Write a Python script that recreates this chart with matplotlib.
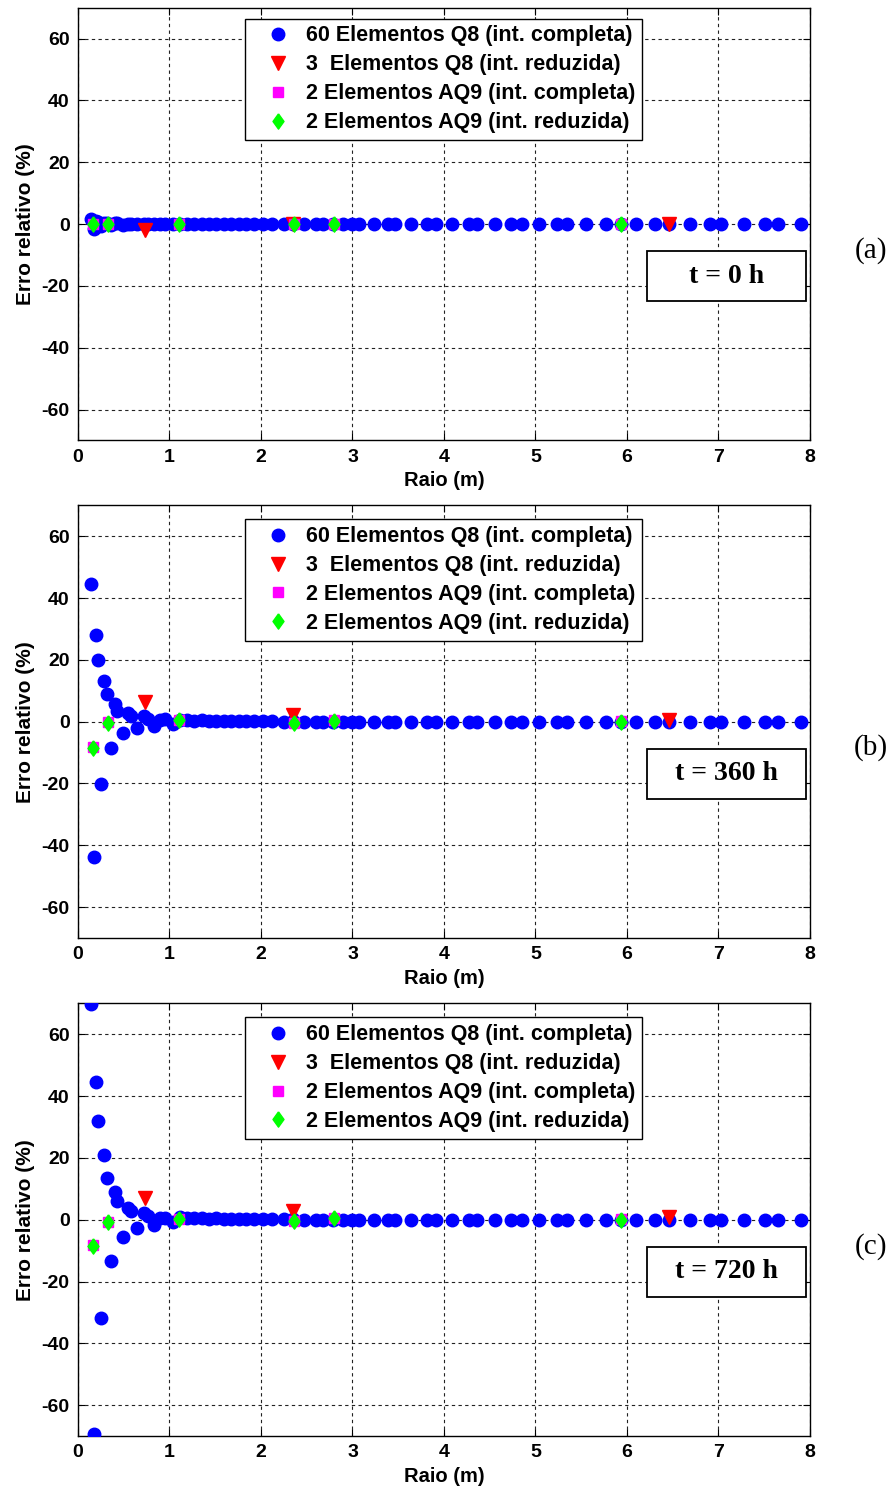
import matplotlib
matplotlib.use("Agg")
import matplotlib.pyplot as plt
from matplotlib.patches import Rectangle

# ---- data -------------------------------------------------------------
# radial positions of the 60-element Q8 mesh results (m)
radius_q8 = [0.145, 0.177, 0.20, 0.215, 0.255, 0.29, 0.318, 0.36, 0.41, 0.43,
             0.49, 0.55, 0.58, 0.64, 0.72, 0.77, 0.835, 0.895, 0.955, 1.04,
             1.12, 1.19, 1.27, 1.36, 1.43, 1.51, 1.60, 1.67, 1.76, 1.84,
             1.92, 2.02, 2.12, 2.25, 2.35, 2.47, 2.60, 2.68, 2.79, 2.90,
             3.00, 3.07, 3.23, 3.39, 3.46, 3.64, 3.82, 3.91, 4.09, 4.27,
             4.36, 4.56, 4.73, 4.85, 5.04, 5.24, 5.34, 5.55, 5.77, 5.93,
             6.10, 6.31, 6.46, 6.69, 6.91, 7.03, 7.28, 7.51, 7.65, 7.90]

err_q8_0h = [1.5, -1.5, 1.0, 0.7, -0.7, 0.5, 0.3, -0.3, 0.2, 0.2,
             -0.2, 0.1, 0.1, -0.1, 0.1, 0.0, -0.1, 0.0, 0.0, 0.0,
             0.0, 0.0, 0.0, 0.0, 0.0, 0.0, 0.0, 0.0, 0.0, 0.0,
             0.0, 0.0, 0.0, 0.0, 0.0, 0.0, 0.0, 0.0, 0.0, 0.0,
             0.0, 0.0, 0.0, 0.0, 0.0, 0.0, 0.0, 0.0, 0.0, 0.0,
             0.0, 0.0, 0.0, 0.0, 0.0, 0.0, 0.0, 0.0, 0.0, 0.0,
             0.0, 0.0, 0.0, 0.0, 0.0, 0.0, 0.0, 0.0, 0.0, 0.0]

err_q8_360h = [44.4, -43.7, 28.2, 20.1, -20.1, 13.1, 8.8, -8.5, 5.8, 3.4,
               -3.7, 2.8, 1.7, -2.1, 1.7, 0.9, -1.5, 0.6, 0.9, -0.8,
               0.6, 0.4, 0.3, 0.4, 0.2, 0.3, 0.2, 0.3, 0.1, 0.2,
               0.1, 0.1, 0.1, 0.0, 0.1, 0.0, 0.0, 0.0, 0.0, 0.0,
               0.0, 0.0, 0.0, 0.0, 0.0, 0.0, 0.0, 0.0, 0.0, 0.0,
               0.0, 0.0, 0.0, 0.0, 0.0, 0.0, 0.0, 0.0, 0.0, 0.0,
               0.0, 0.0, 0.0, 0.0, 0.0, 0.0, 0.0, 0.0, 0.0, 0.0]

err_q8_720h = [69.7, -69.2, 44.5, 31.9, -31.9, 20.8, 13.5, -13.5, 8.9, 5.9,
               -5.6, 3.8, 2.7, -2.7, 2.2, 1.1, -1.6, 0.5, 0.6, -0.7,
               0.8, 0.5, 0.4, 0.5, 0.3, 0.4, 0.2, 0.3, 0.2, 0.2,
               0.1, 0.1, 0.1, 0.1, 0.1, 0.0, 0.0, 0.0, 0.0, 0.0,
               0.0, 0.0, 0.0, 0.0, 0.0, 0.0, 0.0, 0.0, 0.0, 0.0,
               0.0, 0.0, 0.0, 0.0, 0.0, 0.0, 0.0, 0.0, 0.0, 0.0,
               0.0, 0.0, 0.0, 0.0, 0.0, 0.0, 0.0, 0.0, 0.0, 0.0]

# 3 Q8 elements, reduced integration
radius_q8r = [0.73, 2.35, 6.46]
err_q8r_0h = [-2.0, 0.0, 0.0]
err_q8r_360h = [6.3, 2.3, 0.5]
err_q8r_720h = [7.0, 2.9, 0.8]

# 2 AQ9 elements, full and reduced integration
radius_aq9 = [0.16, 0.33, 1.10, 2.36, 2.80, 5.93]
err_aq9c_0h = [0.0, 0.0, 0.0, 0.0, 0.0, 0.0]
err_aq9r_0h = [0.0, 0.0, 0.0, 0.0, 0.0, 0.0]
err_aq9c_360h = [-8.3, -0.2, 0.6, -0.3, 0.4, 0.1]
err_aq9r_360h = [-8.5, -0.4, 0.5, -0.5, 0.3, 0.0]
err_aq9c_720h = [-8.2, -0.7, 0.3, -0.3, 0.6, 0.1]
err_aq9r_720h = [-8.4, -0.9, 0.2, -0.5, 0.5, 0.0]

time_labels = ["t = 0 h", "t = 360 h", "t = 720 h"]
panel_tags = ["(a)", "(b)", "(c)"]
series_labels = ["60 Elementos Q8 (int. completa)",
                 "3  Elementos Q8 (int. reduzida)",
                 "2 Elementos AQ9 (int. completa)",
                 "2 Elementos AQ9 (int. reduzida)"]
x_ticks = [0, 1, 2, 3, 4, 5, 6, 7, 8]
y_ticks = [-60, -40, -20, 0, 20, 40, 60]

panels = [
    (err_q8_0h, err_q8r_0h, err_aq9c_0h, err_aq9r_0h),
    (err_q8_360h, err_q8r_360h, err_aq9c_360h, err_aq9r_360h),
    (err_q8_720h, err_q8r_720h, err_aq9c_720h, err_aq9r_720h),
]

# ---- style ------------------------------------------------------------
plt.rcParams["font.family"] = ["Liberation Sans", "DejaVu Sans"]
plt.rcParams["font.weight"] = "bold"
plt.rcParams["axes.unicode_minus"] = False
SERIF = ["Liberation Serif", "DejaVu Serif"]
diamond = [(0, 1), (0.72, 0), (0, -1), (-0.72, 0), (0, 1)]

fig = plt.figure(figsize=(8.93, 14.92), dpi=100)
bottoms = [0.7048, 0.3713, 0.0375]
tag_y = [251, 748, 1247]
legend_top = [0.975, 0.968, 0.968]

for k, (yq8, yq8r, yaq9c, yaq9r) in enumerate(panels):
    ax = fig.add_axes([0.0873, bottoms[k], 0.8197, 0.29])
    ax.plot(radius_q8, yq8, linestyle="none", marker="o", ms=9,
            color="#0000ff", mec="#0000ff", label=series_labels[0], zorder=3)
    ax.plot(radius_q8r, yq8r, linestyle="none", marker="v", ms=10,
            color="#ff0000", mec="#ff0000", label=series_labels[1], zorder=4)
    ax.plot(radius_aq9, yaq9c, linestyle="none", marker="s", ms=7,
            color="#ff00ff", mec="#ff00ff", label=series_labels[2], zorder=5)
    ax.plot(radius_aq9, yaq9r, linestyle="none", marker=diamond, ms=11,
            color="#00ff00", mec="#00ff00", label=series_labels[3], zorder=6)

    ax.set_xlim(0, 8)
    ax.set_ylim(-70, 70)
    ax.set_xticks(x_ticks)
    ax.set_yticks(y_ticks)
    ax.tick_params(direction="in", top=True, right=True, length=5,
                   width=0.8, labelsize=14, pad=6)
    for lbl in ax.get_xticklabels() + ax.get_yticklabels():
        lbl.set_fontweight("bold")
    ax.grid(True, color="#222222", linestyle=(0, (3, 3)), linewidth=0.8)
    ax.set_axisbelow(True)
    for sp in ax.spines.values():
        sp.set_linewidth(1.0)

    ax.set_xlabel("Raio (m)", fontsize=14.5, fontweight="bold", labelpad=4)
    ax.set_ylabel("Erro relativo (%)", fontsize=15, fontweight="bold",
                  labelpad=5)

    leg = ax.legend(loc="upper left", bbox_to_anchor=(0.228, legend_top[k]),
                    fontsize=15.5, frameon=True, fancybox=False, framealpha=1,
                    edgecolor="black", borderpad=0.32, labelspacing=0.37,
                    handletextpad=0.1, handlelength=2.4, borderaxespad=0)
    leg.get_frame().set_linewidth(1.0)
    for t in leg.get_texts():
        t.set_fontweight("bold")

    ax.add_patch(Rectangle((0.777, 0.322), 0.2175, 0.115,
                           transform=ax.transAxes, facecolor="white",
                           edgecolor="black", linewidth=1.3, zorder=7))
    ax.text(0.886, 0.3795, time_labels[k], transform=ax.transAxes,
            ha="center", va="center", fontsize=20, fontweight="bold",
            family=SERIF, zorder=8)

    fig.text(871 / 893, 1 - tag_y[k] / 1492, panel_tags[k], ha="center",
             va="center", fontsize=21, fontweight="normal", family=SERIF)

fig.savefig("out.png", dpi=100)
